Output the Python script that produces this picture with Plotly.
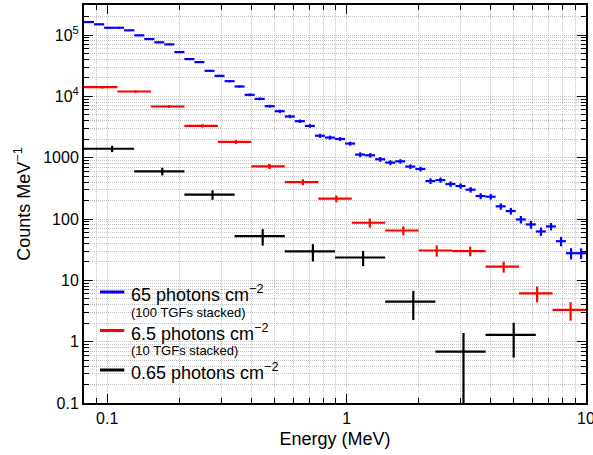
import plotly.graph_objects as go

# ---------------- data ----------------
# 65 photons cm^-2 (100 TGFs stacked): 50 log bins, 0.08-10 MeV
blue_edges = [0.0800, 0.0881, 0.0971, 0.1069, 0.1177, 0.1297, 0.1428, 0.1573, 0.1732, 0.1908,
              0.2101, 0.2314, 0.2549, 0.2807, 0.3092, 0.3405, 0.3750, 0.4131, 0.4550, 0.5011,
              0.5518, 0.6078, 0.6694, 0.7373, 0.8121, 0.8944, 0.9851, 1.0850, 1.1951, 1.3163,
              1.4495, 1.5965, 1.7584, 1.9368, 2.1332, 2.3490, 2.5872, 2.8496, 3.1386, 3.4569,
              3.8070, 4.1931, 4.6184, 5.0867, 5.6026, 6.1700, 6.7958, 7.4850, 8.2441, 9.0801,
              10.0]
blue_counts = [163000, 149600, 131500, 131500, 119400, 98900, 86000, 76000, 70500, 52800,
               40500, 36200, 26100, 21600, 17700, 14500, 10600, 9100, 6920, 5730,
               4700, 3940, 3300, 2280, 2130, 2020, 1700, 1124, 1094, 942,
               832, 873, 716, 654, 416, 432, 372, 345, 301, 237,
               231, 161, 135, 98.4, 81.6, 62.7, 75.7, 43.5, 27.7, 27.7]
blue_err = [4480, 4090, 3660, 3480, 3160, 2740, 2440, 2180, 2000, 1650,
            1380, 1240, 1000, 870, 750, 650, 530, 466, 387, 336,
            290, 253, 220, 175, 161, 149, 130, 101, 95, 84,
            75, 73, 63, 58, 44, 43, 38, 35, 31, 26,
            24, 19.4, 17, 13.8, 12, 10, 10.5, 7.6, 5.8, 5.5]

# 6.5 photons cm^-2 (10 TGFs stacked): 15 log bins
red_edges = [0.0800, 0.1104, 0.1523, 0.2101, 0.2899, 0.4000, 0.5519, 0.7615, 1.0506,
             1.4496, 2.0000, 2.7595, 3.8073, 5.2530, 7.2477, 10.0]
red_counts = [14100, 12000, 6840, 3300, 1805, 723, 401, 215, 87, 65, 30.7, 30, 16.8, 6.15, 3.3]
red_err = [681, 535, 344, 203, 128, 69, 44, 27, 14.8, 10.9, 6.4, 5.35, 3.4, 1.76, 1.1]

# 0.65 photons cm^-2: 10 log bins (last bin empty)
black_edges = [0.0800, 0.1296, 0.2101, 0.3405, 0.5518, 0.8944, 1.4495, 2.3490, 3.8070, 6.1700]
black_counts = [1400, 600, 250, 52.6, 29.6, 23.6, 4.5, 0.69, 1.29]
black_err = [168, 86, 44, 15.8, 9.3, 6.5, 2.24, 0.69, 0.74]

x_ticks = [0.1, 1, 10]
x_ticktext = ["0.1", "1", "10"]
y_ticks = [0.1, 1, 10, 100, 1000, 1e4, 1e5]
y_ticktext = ["0.1", "1", "10", "100", "1000", "10<sup>4</sup>", "10<sup>5</sup>"]

legend_names = ["65 photons cm<sup>\u22122</sup>", "6.5 photons cm<sup>\u22122</sup>",
                "0.65 photons cm<sup>\u22122</sup>"]
legend_sub = ["(100 TGFs stacked)", "(10 TGFs stacked)", ""]
colors = ["#0000ff", "#ff0000", "#000000"]

FONT = "Liberation Sans, Arial, Helvetica, sans-serif"


def bin_geometry(edges):
    lo, hi = edges[:-1], edges[1:]
    xc = [(a + b) / 2 for a, b in zip(lo, hi)]
    plus = [b - c for b, c in zip(hi, xc)]
    minus = [c - a for a, c in zip(lo, xc)]
    return xc, plus, minus


fig = go.Figure()

series = [(blue_edges, blue_counts, blue_err, colors[0], 2.2),
          (red_edges, red_counts, red_err, colors[1], 2.2),
          (black_edges, black_counts, black_err, colors[2], 2.2)]
for edges, yv, ev, col, th in series:
    xc, plus, minus = bin_geometry(edges)
    fig.add_trace(go.Scatter(
        x=xc, y=yv, mode="markers",
        marker=dict(size=1, color=col, opacity=0),
        error_x=dict(type="data", symmetric=False, array=plus, arrayminus=minus,
                     color=col, thickness=th, width=0),
        error_y=dict(type="data", symmetric=True, array=ev,
                     color=col, thickness=th, width=0),
        showlegend=False, hoverinfo="skip"))

# ---------------- manual legend ----------------
leg_y_main = [0.2789, 0.1822, 0.0829]
leg_y_sub = [0.2286, 0.1307]
for i in range(3):
    fig.add_shape(type="line", xref="paper", yref="paper",
                  x0=0.0319, x1=0.0803, y0=leg_y_main[i], y1=leg_y_main[i],
                  line=dict(color=colors[i], width=3))
    fig.add_annotation(xref="paper", yref="paper", x=0.0900, y=leg_y_main[i] - 0.004,
                       xanchor="left", yanchor="middle", showarrow=False,
                       text=legend_names[i], font=dict(family=FONT, size=18, color="black"))
    if legend_sub[i]:
        fig.add_annotation(xref="paper", yref="paper", x=0.0900, y=leg_y_sub[i],
                           xanchor="left", yanchor="middle", showarrow=False,
                           text=legend_sub[i], font=dict(family=FONT, size=13, color="black"))

grid_col = "#c4c4c4"
grid_dash = "1px,1px"
common = dict(
    ticks="inside", ticklen=9, tickwidth=1, tickcolor="black",
    showline=True, linecolor="black", linewidth=2, mirror="allticks",
    showgrid=True, gridcolor=grid_col, gridwidth=1, griddash=grid_dash,
    minor=dict(dtick="D1", ticks="inside", ticklen=5, tickcolor="black",
               showgrid=True, gridcolor=grid_col, gridwidth=1, griddash=grid_dash),
    zeroline=False,
    tickfont=dict(family=FONT, size=16, color="black"),
    ticklabeloverflow="allow",
    automargin=False,
)
fig.update_xaxes(
    type="log", range=[-1.09691, 1.0],
    tickvals=x_ticks, ticktext=x_ticktext,
    title=dict(text="Energy (MeV)", font=dict(family=FONT, size=18, color="black"), standoff=6),
    **common,
)
fig.update_yaxes(
    type="log", range=[-1.0, 5.49],
    tickvals=y_ticks, ticktext=y_ticktext,
    title=dict(text="Counts MeV<sup>\u22121</sup>", font=dict(family=FONT, size=18, color="black"),
               standoff=8),
    **common,
)

fig.update_layout(
    width=593, height=455,
    margin=dict(l=84, r=7, t=5, b=52),
    paper_bgcolor="white", plot_bgcolor="white",
    font=dict(family=FONT, color="black"),
    showlegend=False,
)

fig.write_html("out.html")
